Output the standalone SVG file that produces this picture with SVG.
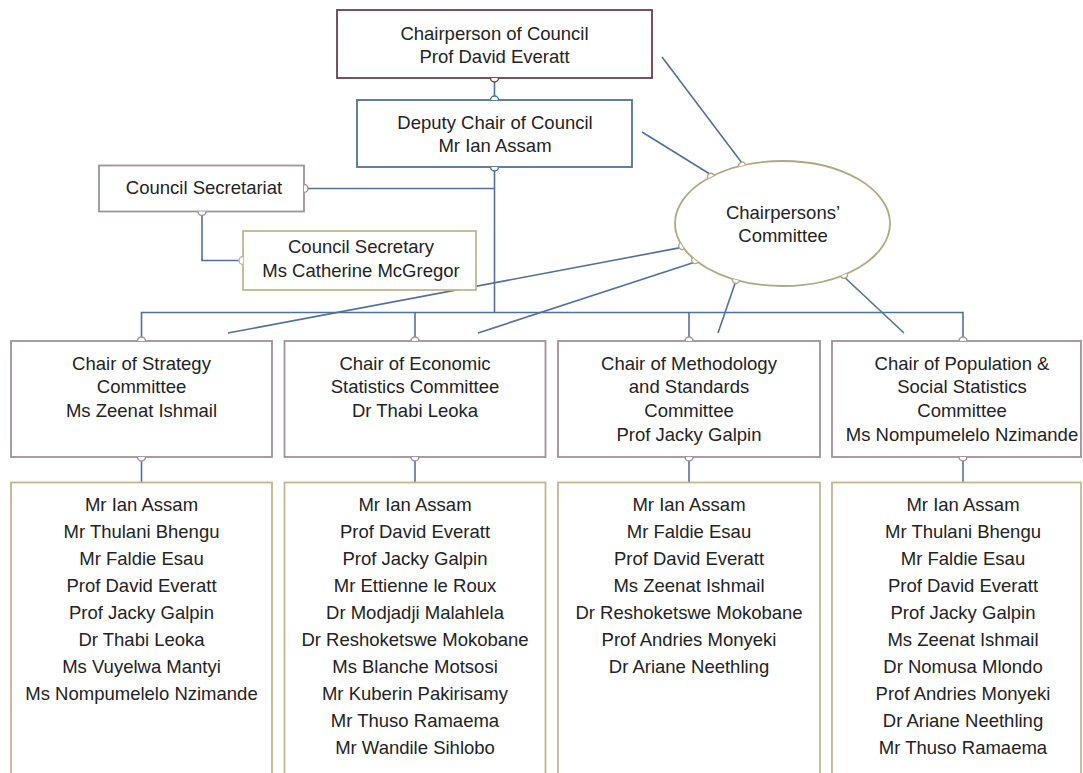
<svg xmlns="http://www.w3.org/2000/svg" width="1083" height="773" viewBox="0 0 1083 773">
<defs>
  <path id="bumpshape" d="M-3.5 0 A3.5 3.5 0 0 1 3.5 0"/>
</defs>
<style>
  text { font-family: "Liberation Sans", Arial, sans-serif; font-size: 18.5px; fill: #232323; text-anchor: middle; }
  .box { fill: #ffffff; stroke-width: 1.8; }
  .maroon { stroke: #6e3f4a; }
  .blue { stroke: #52709a; }
  .mauve { stroke: #a3909a; }
  .tan { stroke: #c2b68e; }
  .olive { stroke: #b3a782; }
  .conn { fill: none; stroke: #52709a; stroke-width: 1.6; }
  .bump { fill: #ffffff; stroke-width: 1.5; }
</style>
<rect width="1083" height="773" fill="#ffffff"/>

<g id="connectors">
  <path class="conn" d="M494.5 78 V100"/>
  <path class="conn" d="M494.5 167 V313"/>
  <path class="conn" d="M304 188.5 H494.5"/>
  <path class="conn" d="M202 211 V260.5 H243"/>
  <path class="conn" d="M141.5 341 V312.5 H963 V341"/>
  <path class="conn" d="M415 312.5 V341"/>
  <path class="conn" d="M689 312.5 V341"/>
  <path class="conn" d="M141.5 457 V482"/>
  <path class="conn" d="M415 457 V482"/>
  <path class="conn" d="M689 457 V482"/>
  <path class="conn" d="M963 457 V482"/>
  <path class="conn" d="M662 57 L741.4 162.2"/>
  <path class="conn" d="M642 132 L709.4 173.7"/>
  <path class="conn" d="M228 333 L679.3 247.9"/>
  <path class="conn" d="M478 333 L693 262.7"/>
  <path class="conn" d="M718 333 L735.1 283.3"/>
  <path class="conn" d="M904 333 L845.3 278"/>
</g>

<g id="chairperson">
  <rect class="box maroon" x="337" y="10" width="315" height="68"/>
  <path class="bump maroon" d="M490.5 78 A4 4 0 0 0 498.5 78"/>
  <text x="494.5" y="40">Chairperson of Council</text>
  <text x="494.5" y="63">Prof David Everatt</text>
</g>

<g id="deputy">
  <rect class="box blue" x="357" y="100" width="275" height="67"/>
  <path class="bump blue" d="M490.5 100 A4 4 0 0 1 498.5 100"/>
  <path class="bump blue" d="M490.5 167 A4 4 0 0 0 498.5 167"/>
  <text x="495" y="129">Deputy Chair of Council</text>
  <text x="495" y="152">Mr Ian Assam</text>
</g>

<g id="secretariat">
  <rect class="box mauve" x="99" y="165.5" width="205" height="46"/>
  <path class="bump mauve" d="M304 184.5 A4 4 0 0 1 304 192.5"/>
  <path class="bump mauve" d="M198 211.5 A4 4 0 0 0 206 211.5"/>
  <text x="204" y="194">Council Secretariat</text>
</g>

<g id="secretary">
  <rect class="box tan" x="243" y="231" width="233" height="59"/>
  <path class="bump tan" d="M243 256.5 A4 4 0 0 0 243 264.5"/>
  <text x="361" y="253">Council Secretary</text>
  <text x="361" y="277">Ms Catherine McGregor</text>
</g>

<g id="chairpersons-committee">
  <ellipse cx="782.5" cy="223.5" rx="107.5" ry="62.5" fill="#ffffff" stroke="#b3a782" stroke-width="1.8"/>
  <use href="#bumpshape" class="bump olive" transform="translate(742.2 165.6) rotate(-13.2)"/>
  <use href="#bumpshape" class="bump olive" transform="translate(711 176.8) rotate(-27.4)"/>
  <use href="#bumpshape" class="bump olive" transform="translate(682.2 246) rotate(-123.6)"/>
  <use href="#bumpshape" class="bump olive" transform="translate(695.2 260) rotate(-141)"/>
  <use href="#bumpshape" class="bump olive" transform="translate(736 279.9) rotate(-164.4)"/>
  <use href="#bumpshape" class="bump olive" transform="translate(844 274.8) rotate(157.9)"/>
  <text x="783" y="219">Chairpersons’</text>
  <text x="783" y="242">Committee</text>
</g>

<g id="chair-strategy">
  <rect class="box mauve" x="11" y="341" width="261" height="116"/>
  <path class="bump mauve" d="M137.5 341 A4 4 0 0 1 145.5 341"/>
  <path class="bump mauve" d="M137.5 457 A4 4 0 0 0 145.5 457"/>
  <text x="141.5" y="369.5">Chair of Strategy</text>
  <text x="141.5" y="393">Committee</text>
  <text x="141.5" y="417">Ms Zeenat Ishmail</text>
</g>

<g id="chair-economic">
  <rect class="box mauve" x="284.5" y="341" width="261" height="116"/>
  <path class="bump mauve" d="M411 341 A4 4 0 0 1 419 341"/>
  <path class="bump mauve" d="M411 457 A4 4 0 0 0 419 457"/>
  <text x="415" y="369.5">Chair of Economic</text>
  <text x="415" y="393">Statistics Committee</text>
  <text x="415" y="417">Dr Thabi Leoka</text>
</g>

<g id="chair-methodology">
  <rect class="box mauve" x="558" y="341" width="262" height="116"/>
  <path class="bump mauve" d="M685 341 A4 4 0 0 1 693 341"/>
  <path class="bump mauve" d="M685 457 A4 4 0 0 0 693 457"/>
  <text x="689" y="369.5">Chair of Methodology</text>
  <text x="689" y="393">and Standards</text>
  <text x="689" y="417">Committee</text>
  <text x="689" y="440.5">Prof Jacky Galpin</text>
</g>

<g id="chair-population">
  <rect class="box mauve" x="832" y="341" width="249" height="116"/>
  <path class="bump mauve" d="M959 341 A4 4 0 0 1 967 341"/>
  <path class="bump mauve" d="M959 457 A4 4 0 0 0 967 457"/>
  <text x="962" y="369.5">Chair of Population &amp;</text>
  <text x="962" y="393">Social Statistics</text>
  <text x="962" y="417">Committee</text>
  <text x="962" y="440.5">Ms Nompumelelo Nzimande</text>
</g>

<g id="members-strategy">
  <rect class="box tan" x="11" y="482.5" width="261" height="310"/>
  <text x="141.5" y="511">Mr Ian Assam</text>
  <text x="141.5" y="538">Mr Thulani Bhengu</text>
  <text x="141.5" y="565">Mr Faldie Esau</text>
  <text x="141.5" y="592">Prof David Everatt</text>
  <text x="141.5" y="619">Prof Jacky Galpin</text>
  <text x="141.5" y="646">Dr Thabi Leoka</text>
  <text x="141.5" y="673">Ms Vuyelwa Mantyi</text>
  <text x="141.5" y="700">Ms Nompumelelo Nzimande</text>
</g>

<g id="members-economic">
  <rect class="box tan" x="284.5" y="482.5" width="261" height="310"/>
  <text x="415" y="511">Mr Ian Assam</text>
  <text x="415" y="538">Prof David Everatt</text>
  <text x="415" y="565">Prof Jacky Galpin</text>
  <text x="415" y="592">Mr Ettienne le Roux</text>
  <text x="415" y="619">Dr Modjadji Malahlela</text>
  <text x="415" y="646">Dr Reshoketswe Mokobane</text>
  <text x="415" y="673">Ms Blanche Motsosi</text>
  <text x="415" y="700">Mr Kuberin Pakirisamy</text>
  <text x="415" y="727">Mr Thuso Ramaema</text>
  <text x="415" y="754">Mr Wandile Sihlobo</text>
</g>

<g id="members-methodology">
  <rect class="box tan" x="558" y="482.5" width="262" height="310"/>
  <text x="689" y="511">Mr Ian Assam</text>
  <text x="689" y="538">Mr Faldie Esau</text>
  <text x="689" y="565">Prof David Everatt</text>
  <text x="689" y="592">Ms Zeenat Ishmail</text>
  <text x="689" y="619">Dr Reshoketswe Mokobane</text>
  <text x="689" y="646">Prof Andries Monyeki</text>
  <text x="689" y="673">Dr Ariane Neethling</text>
</g>

<g id="members-population">
  <rect class="box tan" x="832" y="482.5" width="249" height="310"/>
  <text x="963" y="511">Mr Ian Assam</text>
  <text x="963" y="538">Mr Thulani Bhengu</text>
  <text x="963" y="565">Mr Faldie Esau</text>
  <text x="963" y="592">Prof David Everatt</text>
  <text x="963" y="619">Prof Jacky Galpin</text>
  <text x="963" y="646">Ms Zeenat Ishmail</text>
  <text x="963" y="673">Dr Nomusa Mlondo</text>
  <text x="963" y="700">Prof Andries Monyeki</text>
  <text x="963" y="727">Dr Ariane Neethling</text>
  <text x="963" y="754">Mr Thuso Ramaema</text>
</g>
</svg>
